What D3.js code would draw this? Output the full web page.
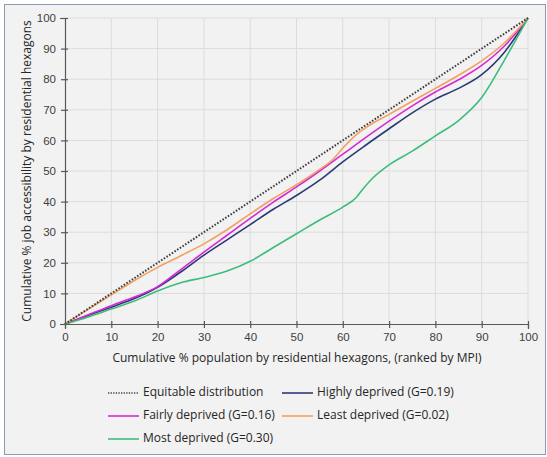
<!DOCTYPE html>
<html>
<head>
<meta charset="utf-8">
<script src="https://cdn.jsdelivr.net/npm/d3@7/dist/d3.min.js"></script>
<style>
  body { margin: 0; background: #fff; }
  svg { display: block; font-family: "Open Sans", "Noto Sans", sans-serif; }
</style>
</head>
<body>
<svg id="chart"></svg>
<script>
var width = 547, height = 457;

// cumulative % population (x) and cumulative % job accessibility (y)
var equitableX = [0, 100];
var equitableY = [0, 100];

var highlyX = [0, 5, 10, 15, 20, 25, 30, 35, 40, 45, 50, 55, 60, 65, 70, 75, 80, 85, 90, 95, 100];
var highlyY = [0, 2.8, 5.5, 8.3, 12, 17, 22.5, 27.5, 32.5, 37.5, 42, 47, 53, 58.5, 63.8, 69, 73.5, 77, 81.5, 89, 100];

var fairlyX = [0, 5, 10, 15, 20, 25, 30, 35, 40, 45, 50, 55, 60, 65, 70, 75, 80, 85, 90, 95, 100];
var fairlyY = [0, 3, 6, 8.8, 12.2, 17.8, 23.5, 29, 34.5, 39.8, 44.8, 50, 55.5, 61, 66.3, 71.3, 75.8, 79.8, 84.5, 91, 100];

var leastX = [0, 5, 10, 15, 20, 25, 30, 35, 40, 45, 50, 55, 58, 60, 63, 65, 70, 75, 80, 85, 90, 95, 100];
var leastY = [0, 4.8, 9.5, 14.2, 18.5, 22.3, 26.2, 30.8, 36, 41, 45.5, 50.5, 54, 57.5, 62, 64.2, 68.5, 72.8, 77, 81.3, 86, 92, 100];

var mostX = [0, 5, 10, 15, 20, 25, 30, 35, 40, 45, 50, 55, 60, 63, 64, 66, 70, 75, 80, 85, 90, 95, 100];
var mostY = [0, 2.3, 4.9, 7.5, 10.8, 13.5, 15.2, 17.3, 20.5, 25, 29.5, 34, 38.2, 41.5, 43.5, 47, 52, 56.5, 61.5, 66.5, 74, 86.5, 100];

var xTicks = [0, 10, 20, 30, 40, 50, 60, 70, 80, 90, 100];
var yTicks = [0, 10, 20, 30, 40, 50, 60, 70, 80, 90, 100];

var series = [
  { name: "Equitable distribution", xs: equitableX, ys: equitableY, color: "#404040", dash: "1.6,1.6", w: 2 },
  { name: "Highly deprived (G=0.19)", xs: highlyX, ys: highlyY, color: "#2b3a74", dash: null, w: 1.6 },
  { name: "Fairly deprived (G=0.16)", xs: fairlyX, ys: fairlyY, color: "#d42ad6", dash: null, w: 1.6 },
  { name: "Least deprived (G=0.02)", xs: leastX, ys: leastY, color: "#f3a062", dash: null, w: 1.6 },
  { name: "Most deprived (G=0.30)", xs: mostX, ys: mostY, color: "#3dbd7c", dash: null, w: 1.6 }
];

var svg = d3.select("#chart").attr("width", width).attr("height", height);

// figure background and border
svg.append("rect")
  .attr("x", 4.5).attr("y", 4.5)
  .attr("width", 541).attr("height", 450)
  .attr("fill", "#f2f2f2")
  .attr("stroke", "#8a9bb5")
  .attr("stroke-width", 1);

var x = d3.scaleLinear().domain([0, 100]).range([65, 528]);
var y = d3.scaleLinear().domain([0, 100]).range([324, 18]);

// gridlines
svg.append("g").selectAll("line.gx")
  .data(xTicks.slice(1))
  .enter().append("line")
    .attr("x1", d => x(d)).attr("x2", d => x(d))
    .attr("y1", y(0)).attr("y2", y(100))
    .attr("stroke", "#dcdcdc").attr("stroke-width", 1);
svg.append("g").selectAll("line.gy")
  .data(yTicks.slice(1))
  .enter().append("line")
    .attr("x1", x(0)).attr("x2", x(100))
    .attr("y1", d => y(d)).attr("y2", d => y(d))
    .attr("stroke", "#dcdcdc").attr("stroke-width", 1);

// axes
var xAxis = svg.append("g")
  .attr("transform", "translate(0," + y(0) + ")")
  .call(d3.axisBottom(x).tickValues(xTicks).tickSize(5).tickPadding(4));
var yAxis = svg.append("g")
  .attr("transform", "translate(" + x(0) + ",0)")
  .call(d3.axisLeft(y).tickValues(yTicks).tickSize(5).tickPadding(4));

[xAxis, yAxis].forEach(function(a) {
  a.select(".domain").attr("stroke", "#595959").attr("stroke-width", 1.2);
  a.selectAll(".tick line").attr("stroke", "#595959").attr("stroke-width", 1.2);
  a.selectAll(".tick text").attr("fill", "#404040").style("font-size", "11.5px");
});
// y axis ticks straddle the axis line like the original
yAxis.selectAll(".tick line").attr("x1", 3).attr("x2", -4);
xAxis.selectAll(".tick line").attr("y1", -3).attr("y2", 4);

// lines
var line = d3.line()
  .x(d => x(d[0]))
  .y(d => y(d[1]))
  .curve(d3.curveMonotoneX);

series.slice(1).concat([series[0]]).forEach(function(s) {
  var pts = s.xs.map((v, i) => [v, s.ys[i]]);
  svg.append("path")
    .datum(pts)
    .attr("d", line)
    .attr("fill", "none")
    .attr("stroke", s.color)
    .attr("stroke-width", s.w)
    .attr("stroke-dasharray", s.dash);
});

// axis titles
svg.append("text")
  .attr("x", 297).attr("y", 359)
  .attr("text-anchor", "middle")
  .attr("dominant-baseline", "middle")
  .attr("fill", "#262626")
  .style("font-size", "12px")
  .text("Cumulative % population by residential hexagons, (ranked by MPI)");

svg.append("text")
  .attr("transform", "translate(28,171) rotate(-90)")
  .attr("text-anchor", "middle")
  .attr("dominant-baseline", "middle")
  .attr("fill", "#262626")
  .style("font-size", "12px")
  .text("Cumulative % job accessibility by residential hexagons");

// legend
var legendPos = [
  { lx: 108, ly: 393 },
  { lx: 282, ly: 393 },
  { lx: 108, ly: 416 },
  { lx: 282, ly: 416 },
  { lx: 108, ly: 439 }
];

series.forEach(function(s, i) {
  var p = legendPos[i];
  svg.append("line")
    .attr("x1", p.lx).attr("x2", p.lx + 31)
    .attr("y1", p.ly).attr("y2", p.ly)
    .attr("stroke", s.color)
    .attr("stroke-width", s.dash ? 1.6 : 1.6)
    .attr("stroke-dasharray", s.dash ? "1.3,1.3" : null);
  svg.append("text")
    .attr("x", p.lx + 35).attr("y", p.ly)
    .attr("dominant-baseline", "middle")
    .attr("fill", "#262626")
    .style("font-size", "12px")
    .text(s.name);
});
</script>
</body>
</html>
